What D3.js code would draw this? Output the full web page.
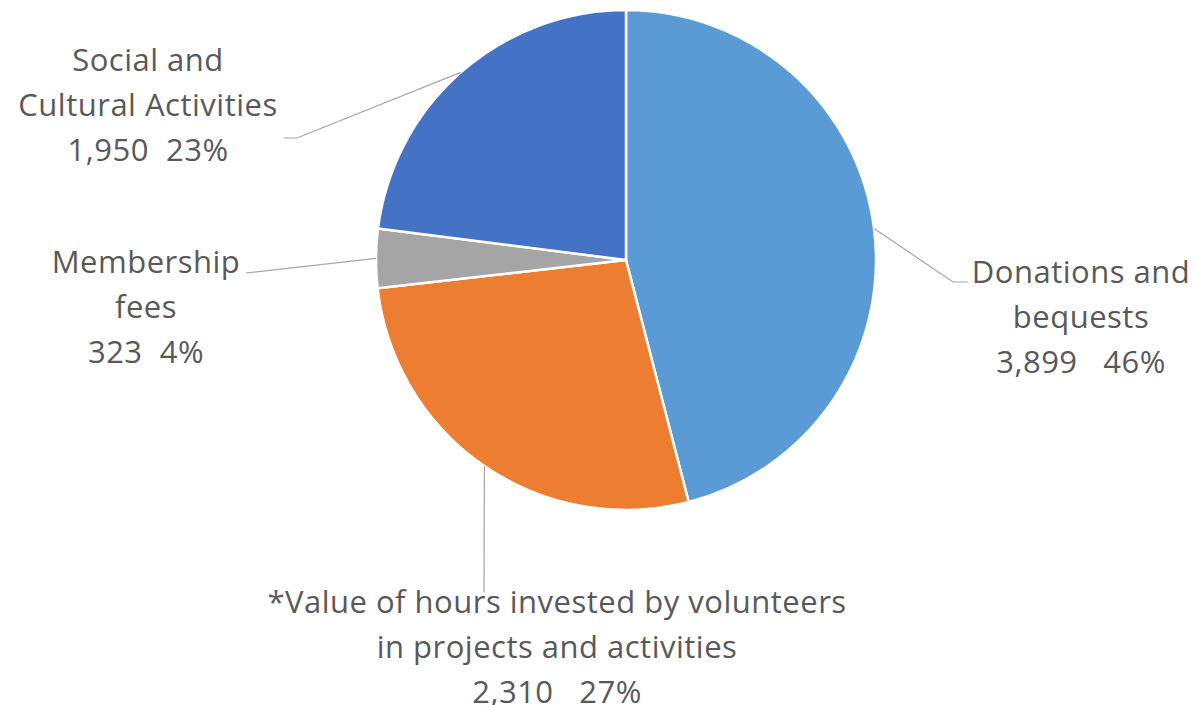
<!DOCTYPE html>
<html lang="en">
<head>
  <meta charset="UTF-8">
  <script src="https://d3js.org/d3.v7.min.js"></script>
  <title>Income sources</title>
  <style>
    body { margin: 0; background: #fff; }
    text { font-family: "Open Sans", "Noto Sans", sans-serif; fill: #595959; white-space: pre; }
  </style>
</head>
<body>
  <script>
    // data
    var categories = ['Donations and bequests', '*Value of hours invested by volunteers in projects and activities', 'Membership fees', 'Social and Cultural Activities'];
    var values = [3899, 2310, 323, 1950];
    var percents = ['46%', '27%', '4%', '23%'];
    var labelLines = [
      ['Donations and', 'bequests'],
      ['*Value of hours invested by volunteers', 'in projects and activities'],
      ['Membership', 'fees'],
      ['Social and', 'Cultural Activities']
    ];
    var valueGaps = ['   ', '   ', '  ', '  '];
    var colors = ['#5B9BD5', '#ED7D31', '#A5A5A5', '#4472C4'];

    var width = 1195, height = 705;
    var cx = 626, cy = 260, radius = 250;

    // label placement (center x, first baseline y) and leader line bends
    var layout = [
      {x: 1081, y: 283, line: [[953, 282], [968, 282]]},
      {x: 557, y: 613, line: [[484, 592]]},
      {x: 146, y: 273, line: [[246, 273]]},
      {x: 148, y: 71, line: [[297, 138], [284, 138]]}
    ];
    var lineGap = 45;

    var svg = d3.select('body').append('svg')
      .attr('width', width)
      .attr('height', height);

    var data = values.map(function(v, i) { return {name: categories[i], value: v, i: i}; });

    var pie = d3.pie().sort(null).value(function(d) { return d.value; });
    var arc = d3.arc().innerRadius(0).outerRadius(radius);
    var arcs = pie(data);

    var g = svg.append('g').attr('transform', 'translate(' + cx + ',' + cy + ')');

    g.selectAll('path')
      .data(arcs)
      .enter().append('path')
      .attr('d', arc)
      .attr('fill', function(d) { return colors[d.data.i]; })
      .attr('stroke', '#fff')
      .attr('stroke-width', 2.5)
      .attr('stroke-linejoin', 'round');

    // leader lines
    arcs.forEach(function(d) {
      var a = (d.startAngle + d.endAngle) / 2;
      var p0 = [cx + radius * Math.sin(a), cy - radius * Math.cos(a)];
      var pts = [p0].concat(layout[d.data.i].line);
      svg.append('path')
        .attr('d', d3.line()(pts))
        .attr('fill', 'none')
        .attr('stroke', '#a6a6a6')
        .attr('stroke-width', 1.2);
    });

    // labels
    arcs.forEach(function(d) {
      var i = d.data.i, L = layout[i];
      var lines = labelLines[i].concat([d3.format(',')(values[i]) + valueGaps[i] + percents[i]]);
      var t = svg.append('text')
        .attr('text-anchor', 'middle')
        .attr('font-size', 31)
        .attr('letter-spacing', 0.5);
      lines.forEach(function(s, k) {
        t.append('tspan')
          .attr('x', L.x)
          .attr('y', L.y + k * lineGap)
          .text(s);
      });
    });
  </script>
</body>
</html>
